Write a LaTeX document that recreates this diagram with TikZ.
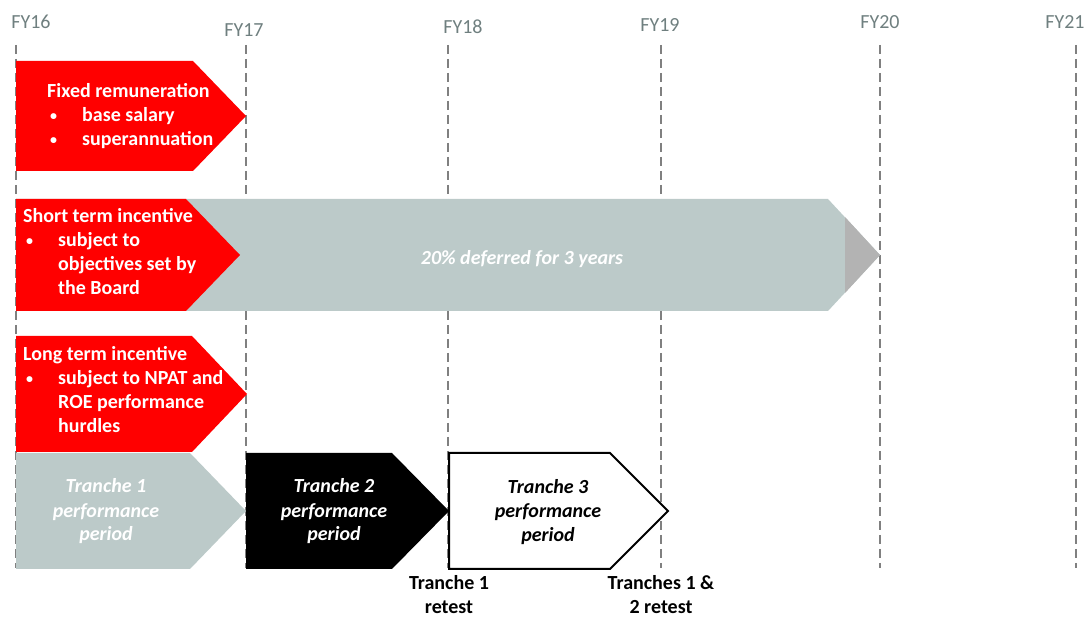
\documentclass[tikz,border=0pt]{standalone}
\usepackage{fontspec}
\setmainfont{Carlito}
\usetikzlibrary{positioning}
\definecolor{remred}{HTML}{FF0000}
\definecolor{sage}{HTML}{BCCAC9}
\definecolor{slate}{HTML}{B3B3B3}
\definecolor{fygrey}{HTML}{6F7F7F}
\tikzset{every picture/.style={>=stealth},
  yrlabel/.style={font=\fontsize{20}{24}\selectfont, text=fygrey, anchor=base, inner sep=0pt},
  yrline/.style={draw=gray, line width=1.4pt, dash pattern=on 9pt off 5pt},
  boxtext/.style={font=\fontsize{20}{24}\selectfont\bfseries, text=white, inner sep=0pt, align=left, anchor=base west},
  tranche/.style={font=\fontsize{20}{24}\selectfont\bfseries\itshape, text=white, inner sep=0pt, align=center, anchor=base},
  retest/.style={font=\fontsize{20}{24}\selectfont\bfseries, inner sep=0pt, align=center, anchor=base}}
% chevron: left, shoulder, tip, top, bottom, style
\newcommand{\chev}[6]{\path[#6] (#1,#4) -- (#2,#4) -- (#3,{(#4+#5)/2}) -- (#2,#5) -- (#1,#5) -- cycle;}
\newcommand{\bul}{\makebox[35pt][l]{\hspace{3pt}\raisebox{1.5pt}{\fontsize{14}{14}\selectfont\textbullet}}}

\begin{document}
\begin{tikzpicture}[x=1pt,y=-1pt]
  \useasboundingbox (0,0) rectangle (1088,617);
  \foreach \n/\x/\lx/\ly in {16/16/31/29, 17/246/244/37, 18/448/463/34, 19/661/660/32, 20/880/880/29, 21/1076/1065/29} {
    \node[yrlabel] (fy\n) at (\lx,\ly) {FY\n};
    \coordinate (top\n) at (\x,45);
    \coordinate (bot\n) at (\x,568);
    \draw[yrline] (top\n) -- (bot\n);
  }
  \chev{16}{828}{880}{199}{311}{fill=sage}
  \fill[slate] (845,217) -- (880,255) -- (845,293) -- cycle;
  \chev{16}{193}{246}{61}{171}{fill=remred}
  \chev{16}{186}{240}{199}{311}{fill=remred}
  \chev{16}{192}{247}{336}{452}{fill=remred}
  \chev{16}{190}{246}{453}{569}{fill=sage}
  \chev{246}{392}{449}{453}{569}{fill=black}
  \chev{449}{610}{668}{453}{569}{fill=white, draw=black, line width=2pt, line join=miter}
  % multi-line nodes sit on the baseline of their last line
  \node[boxtext] (fixed) at (47,146) {Fixed remuneration\\\bul base salary\\\bul superannuation};
  \node[boxtext] (sti) at (23,295) {Short term incentive\\\bul subject to\\\hspace*{35pt}objectives set by\\\hspace*{35pt}the Board};
  \node[boxtext] (lti) at (23,433) {Long term incentive\\\bul subject to NPAT and\\\hspace*{35pt}ROE performance\\\hspace*{35pt}hurdles};
  \node[tranche] (defer) at (522,265) {20\% deferred for 3 years};
  \node[tranche] (tr1) at (106,541) {Tranche 1\\performance\\period};
  \node[tranche] (tr2) at (334,541) {Tranche 2\\performance\\period};
  \node[tranche, text=black] (tr3) at (548,542) {Tranche 3\\performance\\period};
  \node[retest] (rt1) at (449,613) {Tranche 1\\retest};
  \node[retest] (rt2) at (661,613) {Tranches 1 \&\\2 retest};
\end{tikzpicture}
\end{document}
